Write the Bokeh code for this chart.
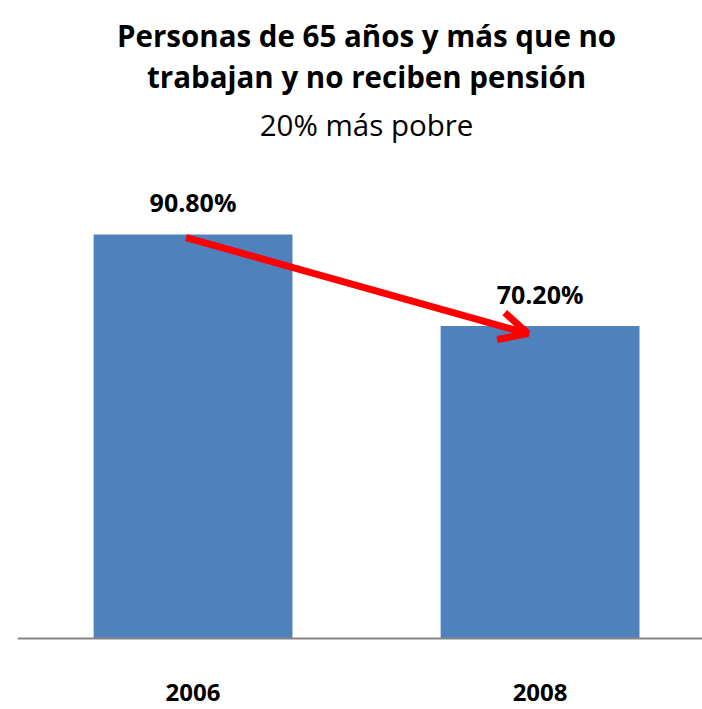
from bokeh.plotting import figure
from bokeh.models import ColumnDataSource, LabelSet, Label, Arrow, OpenHead, Span
from bokeh.core.properties import value
from bokeh.embed import file_html
from bokeh.resources import INLINE

years = ["2006", "2008"]
values = [90.8, 70.2]
value_labels = ["90.80%", "70.20%"]
title_lines = ["Personas de 65 años y más que no", "trabajan y no reciben pensión"]
subtitle = "20% más pobre"

xs = list(range(len(years)))
src = ColumnDataSource(dict(x=xs, top=values, lab=value_labels, base=[0] * len(xs), year=years))

FONT = "Open Sans"

p = figure(width=702, height=709, output_backend="svg", toolbar_location=None,
           x_range=(-0.5058, 1.468), y_range=(-15.96, 143.37),
           min_border_left=17, min_border_right=0, min_border_top=0, min_border_bottom=0)
p.outline_line_color = None
p.grid.visible = False
p.axis.visible = False

p.vbar(x="x", top="top", width=0.573, source=src, color="#4F81BD", line_color=None)

# baseline (category axis line)
p.add_layout(Span(location=0, dimension="width", line_color="#868686", line_width=2))

# value labels
p.add_layout(LabelSet(x="x", y="top", text="lab", source=src, y_offset=32,
                      text_align="center", text_baseline="middle",
                      text_font=value(FONT), text_font_style="bold", text_font_size="25px",
                      text_color="black"))

# category labels
p.add_layout(LabelSet(x="x", y="base", text="year", source=src, y_offset=-54,
                      text_align="center", text_baseline="middle",
                      text_font=value(FONT), text_font_style="bold", text_font_size="24px",
                      text_color="black"))

# trend arrow from first bar top to second bar
p.add_layout(Arrow(end=OpenHead(size=28, line_color="#FF0000", line_width=7),
                   x_start=xs[0] - 0.02, y_start=values[0] - 0.7,
                   x_end=xs[1] - 0.035, y_end=values[1] - 1.7,
                   line_color="#FF0000", line_width=7))

# titles
p.add_layout(Label(x=0.5, y=135.6, text=title_lines[0], text_align="center", text_baseline="middle",
                   text_font=FONT, text_font_style="bold", text_font_size="29.5px", text_color="black"))
p.add_layout(Label(x=0.5, y=126.2, text=title_lines[1], text_align="center", text_baseline="middle",
                   text_font=FONT, text_font_style="bold", text_font_size="29.5px", text_color="black"))
p.add_layout(Label(x=0.5, y=115.5, text=subtitle, text_align="center", text_baseline="middle",
                   text_font=FONT, text_font_size="29.5px", text_color="black"))

open("out.html", "w").write(file_html(p, INLINE))
